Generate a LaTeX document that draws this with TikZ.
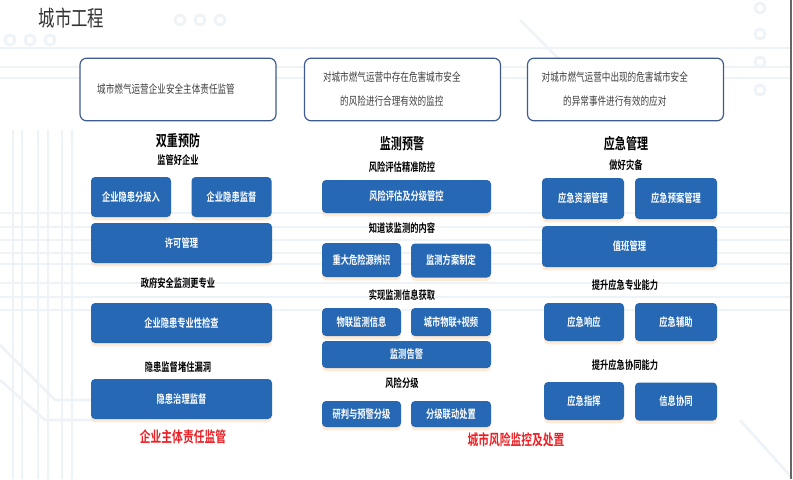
\documentclass[tikz,border=0pt]{standalone}
\usepackage{fontspec}
\usepackage{tikz}
\usetikzlibrary{shadows}
\newfontfamily\cjk{Noto Sans CJK SC}[FakeStretch=0.75]
\newfontfamily\cjkb{Noto Sans CJK SC Bold}[FakeStretch=0.72]
\definecolor{boxblue}{RGB}{38,104,180}
\definecolor{frameblue}{RGB}{62,92,143}
\definecolor{circuit}{RGB}{238,243,248}
\definecolor{alertred}{RGB}{236,32,36}
\tikzset{
  goal box/.style={
    rectangle,
    draw=frameblue,
    line width=0.9pt,
    rounded corners=5pt,
    fill=white,
    minimum width=147pt,
    minimum height=47pt
  },
  goal text/.style={
    align=center,
    text=black!75,
    font=\cjk\fontsize{8.6}{18}\selectfont
  },
  task box/.style={
    rectangle,
    rounded corners=3pt,
    fill=boxblue,
    text=white,
    inner sep=0pt,
    font=\cjkb\fontsize{8.6}{10}\selectfont,
    drop shadow={shadow xshift=0pt, shadow yshift=-2.5pt, fill=orange!35, opacity=0.45}
  },
  head text/.style={
    font=\cjkb\fontsize{11.5}{13}\selectfont
  },
  sub text/.style={
    font=\cjkb\fontsize{8.6}{10}\selectfont
  },
  alert text/.style={
    text=alertred,
    font=\cjkb\fontsize{11.2}{13}\selectfont
  },
  circuit line/.style={
    draw=circuit,
    line width=2pt
  }
}

\begin{document}
\begin{tikzpicture}[x=0.75pt, y=-0.75pt]
  \useasboundingbox (0,0) rectangle (793,479);
  \fill[white] (0,0) rectangle (793,479);

  %% ---- 背景电路纹 ----
  \foreach \yy in {48,67,78,213,227,240,253,264,283,297,310} {
    \draw[circuit line] (0,\yy) -- (790,\yy);
  }
  \foreach \xx in {13,22,38,48,62,72} {
    \draw[circuit line] (\xx,130) -- (\xx,479);
  }
  \draw[circuit line] (0,345) -- (55,400) -- (95,400);
  \draw[circuit line] (0,380) -- (45,420) -- (95,420);
  \draw[circuit line] (520,20) -- (600,100);
  \draw[circuit line] (740,420) -- (793,479);
  \foreach \cx/\cy in {10/40,30/40,50/40,180/20,200/20,220/20,760/8,760/34,760/62,760/90} {
    \draw[circuit line, fill=white] (\cx,\cy) circle (5);
  }
  \draw[black!60, line width=0.8pt] (791,0) -- (791,479);

  %% ---- 标题 ----
  \node[anchor=west, text=black!80, font=\cjk\fontsize{16.4}{18}\selectfont] (title) at (34,18) {城市工程};

  %% ---- 目标框 ----
  \node[goal box] (goalA) at (178,89.5) {};
  \node[goal box] (goalB) at (402.5,89.5) {};
  \node[goal box] (goalC) at (625.5,89.5) {};
  \node[goal text] (goalAtext) at ([xshift=-9pt]goalA.center) {城市燃气运营企业安全主体责任监管};
  \node[goal text] (goalBtext) at ([xshift=-8pt]goalB.center) {对城市燃气运营中存在危害城市安全\\的风险进行合理有效的监控};
  \node[goal text] (goalCtext) at ([xshift=-8pt]goalC.center) {对城市燃气运营中出现的危害城市安全\\的异常事件进行有效的应对};

  %% ---- 双重预防 ----
  \node[head text] (prevHead) at (178,141) {双重预防};
  \node[sub text]  (prevSub)  at (178,160) {监管好企业};
  \node[task box, minimum width=60pt, minimum height=30pt] (prevA) at (131,197) {企业隐患分级入};
  \node[task box, minimum width=60pt, minimum height=30pt] (prevB) at (231.5,197) {企业隐患监督};
  \node[task box, minimum width=135.75pt, minimum height=30pt] (prevC) at (181.5,243) {许可管理};
  \node[sub text]  (prevGov)  at (178,283) {政府安全监测更专业};
  \node[task box, minimum width=135.75pt, minimum height=30pt] (prevD) at (181.5,323) {企业隐患专业性检查};
  \node[sub text]  (prevGap)  at (178,367) {隐患监督堵住漏洞};
  \node[task box, minimum width=135.75pt, minimum height=30pt] (prevE) at (181.5,399) {隐患治理监督};
  \node[alert text] (prevNote) at (183,437) {企业主体责任监管};

  %% ---- 监测预警 ----
  \node[head text] (monHead) at (402,144) {监测预警};
  \node[sub text]  (monSub)  at (402,167) {风险评估精准防控};
  \node[task box, minimum width=126.75pt, minimum height=24.75pt] (monA) at (406.5,196.5) {风险评估及分级管控};
  \node[sub text]  (monKnow) at (402,228) {知道该监测的内容};
  \node[task box, minimum width=59.25pt, minimum height=25.5pt] (monB) at (361.5,260) {重大危险源辨识};
  \node[task box, minimum width=60pt, minimum height=25.5pt] (monC) at (451,260.5) {监测方案制定};
  \node[sub text]  (monGet)  at (402,295) {实现监测信息获取};
  \node[task box, minimum width=59.25pt, minimum height=21pt] (monD) at (361.5,322) {物联监测信息};
  \node[task box, minimum width=60pt, minimum height=21pt] (monE) at (451,322) {城市物联+视频};
  \node[task box, minimum width=126.75pt, minimum height=20.25pt] (monF) at (406.5,354.5) {监测告警};
  \node[sub text]  (monLvl)  at (402,383) {风险分级};
  \node[task box, minimum width=59.25pt, minimum height=19.5pt] (monG) at (361.5,414) {研判与预警分级};
  \node[task box, minimum width=60pt, minimum height=19.5pt] (monH) at (451,414) {分级联动处置};
  \node[alert text] (monNote) at (516,440) {城市风险监控及处置};

  %% ---- 应急管理 ----
  \node[head text] (emgHead) at (626,144) {应急管理};
  \node[sub text]  (emgSub)  at (626,165) {做好灾备};
  \node[task box, minimum width=61.5pt, minimum height=30.75pt] (emgA) at (583,198.5) {应急资源管理};
  \node[task box, minimum width=61.5pt, minimum height=30.75pt] (emgB) at (676,198.5) {应急预案管理};
  \node[task box, minimum width=131.25pt, minimum height=30.75pt] (emgC) at (629.5,246.5) {值班管理};
  \node[sub text]  (emgPro)  at (625,285) {提升应急专业能力};
  \node[task box, minimum width=60pt, minimum height=28.5pt] (emgD) at (584,322) {应急响应};
  \node[task box, minimum width=61.5pt, minimum height=28.5pt] (emgE) at (676,322) {应急辅助};
  \node[sub text]  (emgCoop) at (625,365) {提升应急协同能力};
  \node[task box, minimum width=60pt, minimum height=28.5pt] (emgF) at (584,401) {应急指挥};
  \node[task box, minimum width=61.5pt, minimum height=28.5pt] (emgG) at (676,401.5) {信息协同};
\end{tikzpicture}
\end{document}
